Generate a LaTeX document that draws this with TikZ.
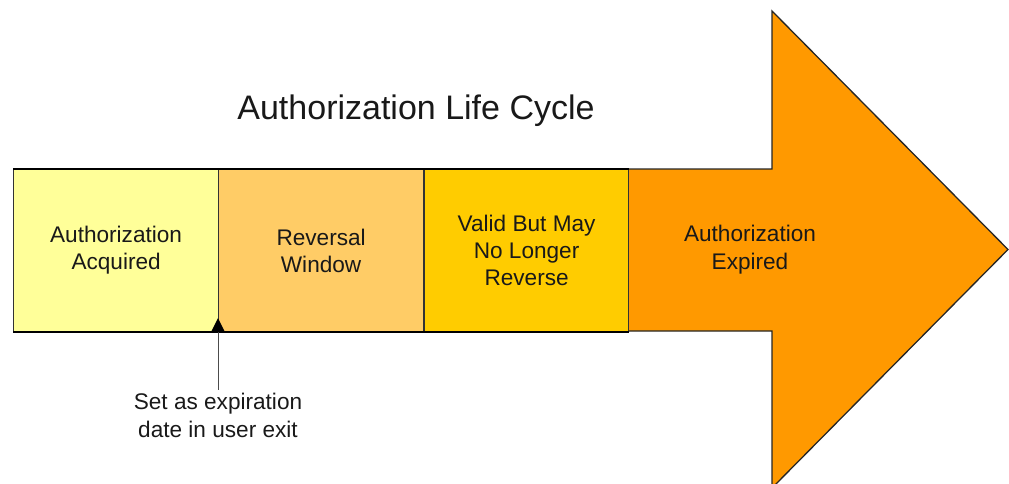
\documentclass[tikz,border=0pt]{standalone}
\usepackage{fontspec}
\setmainfont{Liberation Sans}
\definecolor{c1}{HTML}{FFFF99}
\definecolor{c2}{HTML}{FFCC66}
\definecolor{c3}{HTML}{FFCC00}
\definecolor{c4}{HTML}{FF9900}
\definecolor{edge}{HTML}{333333}
\begin{document}
\begin{tikzpicture}[x=1pt,y=-1pt,
  phase/.style={draw=edge,line width=1.2pt,minimum width=205pt,minimum height=162pt,inner sep=0pt,anchor=north west,align=center,font=\fontsize{22.6}{27}\selectfont,text=black!90},
  lbl/.style={align=center,font=\fontsize{22.6}{28}\selectfont,text=black!90}]
\useasboundingbox (0,0) rectangle (1009,484);
\begin{scope}
\clip (0,0) rectangle (1009,484);
\draw[fill=c4,draw=black!85,line width=1.3pt,line join=miter]
  (628,169) -- (772,169) -- (772,11) -- (1008,249.5) -- (772,488) -- (772,331) -- (628,331) -- cycle;
\end{scope}
\node[phase,fill=c1] (p1) at (13,169) {Authorization\\Acquired};
\node[phase,fill=c2] (p2) at (218,169) {Reversal\\Window};
\node[phase,fill=c3,minimum width=204pt] (p3) at (424,169) {Valid But May\\No Longer\\Reverse};
\node[lbl] (p4) at (750,249.5) {Authorization\\Expired};
\draw[black,line width=2pt] (p1.north west) -- (p3.north east);
\draw[black,line width=2pt] (p1.south west) -- (p3.south east);
\node[font=\fontsize{34}{40}\selectfont,text=black!90] (title) at (416,111) {Authorization Life Cycle};
\coordinate (mk) at (p2.south west);
\node[lbl,anchor=north] (note) at (218,390) {Set as expiration\\date in user exit};
\draw[black!70,line width=0.9pt] (mk) -- (note.north);
\fill[black] (mk) ++(-7,0) -- ++(14,0) -- ++(-7,-14) -- cycle;
\end{tikzpicture}
\end{document}
